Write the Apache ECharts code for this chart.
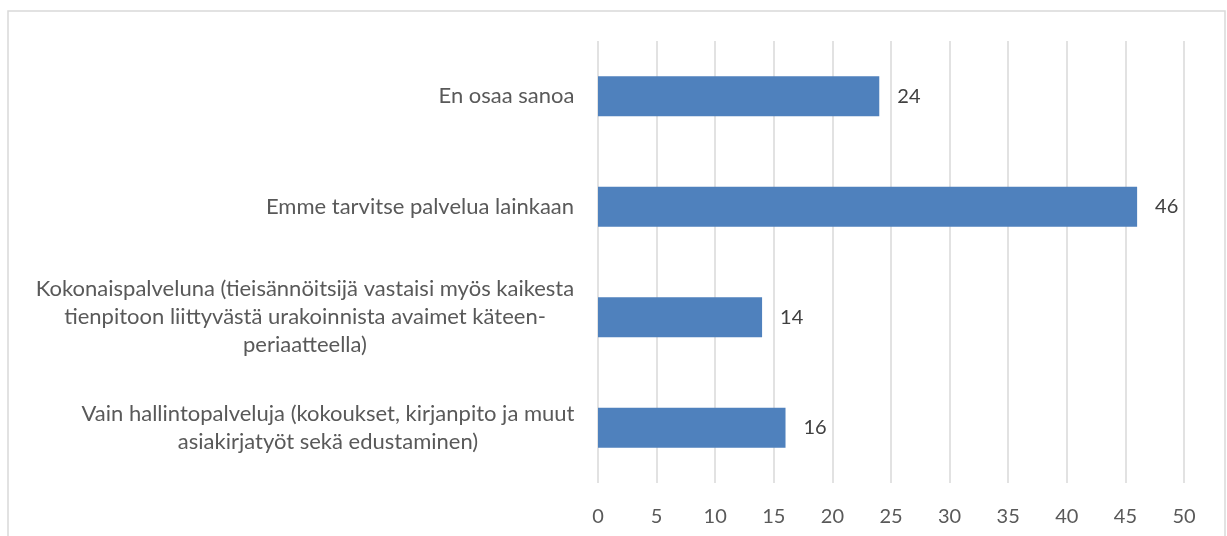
<!DOCTYPE html>
<html>
<head>
<meta charset="utf-8">
<script src="https://cdn.jsdelivr.net/npm/echarts@6/dist/echarts.min.js"></script>
<style>
html,body{margin:0;padding:0;background:#fff;}
#chart{width:1227px;height:536px;}
</style>
</head>
<body>
<div id="chart"></div>
<script>
var categories = [
  "En osaa sanoa",
  "Emme tarvitse palvelua lainkaan",
  "Kokonaispalveluna (tieisännöitsijä vastaisi myös kaikesta\ntienpitoon liittyvästä urakoinnista avaimet käteen-\nperiaatteella)",
  "Vain hallintopalveluja (kokoukset, kirjanpito ja muut\nasiakirjatyöt sekä edustaminen)"
];
var values = [24, 46, 14, 16];
var xTicks = [0, 5, 10, 15, 20, 25, 30, 35, 40, 45, 50];

var FONT = 'Lato';
var FS = 20;
var CFS = 22;
var cv = document.createElement('canvas').getContext('2d');
cv.font = CFS + 'px ' + FONT;
var rich = {};
categories.forEach(function (c, i) {
  var w = 0;
  c.split('\n').forEach(function (l) { w = Math.max(w, cv.measureText(l).width); });
  rich['s' + i] = { width: Math.ceil(w) + 1, align: 'center', fontFamily: FONT, fontSize: CFS, color: '#595959', lineHeight: 28 };
});

var chart = echarts.init(document.getElementById('chart'));
chart.setOption({
  animation: false,
  backgroundColor: '#fff',
  graphic: [{
    type: 'rect', shape: { x: 8, y: 11, width: 1217, height: 540 },
    style: { fill: 'none', stroke: '#d9d9d9', lineWidth: 1.5 }, silent: true
  }],
  grid: { left: 598, right: 43, top: 41, bottom: 53, containLabel: false },
  xAxis: {
    type: 'value', min: xTicks[0], max: xTicks[xTicks.length - 1], interval: xTicks[1] - xTicks[0],
    axisLine: { show: false }, axisTick: { show: false },
    splitLine: { show: true, lineStyle: { color: '#d9d9d9', width: 1.5 } },
    axisLabel: { margin: 24, color: '#595959', fontFamily: FONT, fontSize: FS }
  },
  yAxis: {
    type: 'category', data: categories, inverse: true,
    axisLine: { show: false }, axisTick: { show: false },
    axisLabel: {
      margin: 23, color: '#595959', fontFamily: FONT, fontSize: CFS, lineHeight: 28,
      formatter: function (v, i) {
        return v.split('\n').map(function (l) { return '{s' + i + '|' + l + '}'; }).join('\n');
      },
      rich: rich
    }
  },
  series: [{
    type: 'bar', data: values, barWidth: '36%',
    itemStyle: { color: '#4f81bd' },
    label: { show: true, position: 'right', distance: 18, color: '#404040', fontFamily: FONT, fontSize: FS }
  }]
});
</script>
</body>
</html>
